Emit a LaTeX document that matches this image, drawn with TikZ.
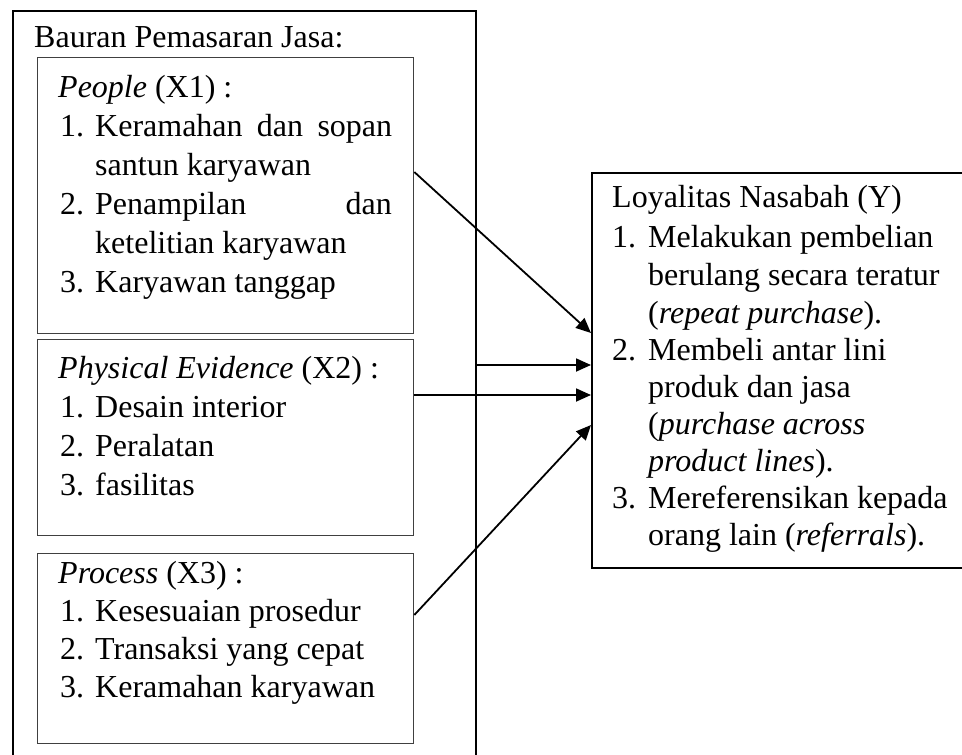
\documentclass[tikz,border=0pt]{standalone}
\usepackage{fontspec}
\setmainfont{Liberation Serif}
\usetikzlibrary{arrows.meta,calc}
\tikzset{
  outerbox/.style={draw=black, line width=1.8pt, anchor=north west, inner sep=0pt},
  innerbox/.style={draw=black!75, line width=1.3pt, anchor=north west, inner sep=0pt},
  txt/.style={anchor=base west, inner sep=0pt, font=\fontsize{32}{37}\selectfont},
  txtr/.style={anchor=base east, inner sep=0pt, font=\fontsize{32}{37}\selectfont},
  conn/.style={line width=1.8pt, -{Triangle[length=15pt,width=13pt]}}
}
\begin{document}
\begin{tikzpicture}[x=1pt,y=-1pt]
\useasboundingbox (0,0) rectangle (962,755);
% boxes
\node (outer) [outerbox, minimum width=463pt, minimum height=752pt] at (12,10) {};
\node (x1) [innerbox, minimum width=376pt, minimum height=276pt] at (37,57) {};
\node (x2) [innerbox, minimum width=376pt, minimum height=196pt] at (37,339) {};
\node (x3) [innerbox, minimum width=376pt, minimum height=190pt] at (37,553) {};
\node (y) [outerbox, minimum width=378pt, minimum height=395pt] at (591,172) {};
% left texts
\node (t0) [txt] at (34,47) {Bauran Pemasaran Jasa:};
\node (t1) [txt] at (58,97) {\textit{People} (X1) :};
\node (t11n) [txt] at (60,136) {1.};
\node (t11) [txt] at (95,136) {\makebox[297pt][s]{Keramahan dan sopan}};
\node (t12) [txt] at (95,175) {santun karyawan};
\node (t13n) [txt] at (60,214) {2.};
\node (t13) [txt] at (95,214) {Penampilan};
\node (t13b) [txtr] at (392,214) {dan};
\node (t14) [txt] at (95,253) {ketelitian karyawan};
\node (t15n) [txt] at (60,292) {3.};
\node (t15) [txt] at (95,292) {Karyawan tanggap};
\node (t2) [txt] at (58,378) {\textit{Physical Evidence} (X2) :};
\node (t21n) [txt] at (60,417) {1.};
\node (t21) [txt] at (95,417) {Desain interior};
\node (t22n) [txt] at (60,456) {2.};
\node (t22) [txt] at (95,456) {Peralatan};
\node (t23n) [txt] at (60,495) {3.};
\node (t23) [txt] at (95,495) {fasilitas};
\node (t3) [txt] at (58,583) {\textit{Process} (X3) :};
\node (t31n) [txt] at (60,621) {1.};
\node (t31) [txt] at (95,621) {Kesesuaian prosedur};
\node (t32n) [txt] at (60,659) {2.};
\node (t32) [txt] at (95,659) {Transaksi yang cepat};
\node (t33n) [txt] at (60,697) {3.};
\node (t33) [txt] at (95,697) {Keramahan karyawan};
% right texts
\node (r0) [txt] at (612,207) {Loyalitas Nasabah (Y)};
\node (r1n) [txt] at (612,247) {1.};
\node (r1) [txt] at (648,247) {Melakukan pembelian};
\node (r2) [txt] at (648,285) {berulang secara teratur};
\node (r3) [txt] at (648,323) {(\textit{repeat purchase}).};
\node (r4n) [txt] at (612,360) {2.};
\node (r4) [txt] at (648,360) {Membeli antar lini};
\node (r5) [txt] at (648,397) {produk dan jasa};
\node (r6) [txt] at (648,434) {(\textit{purchase across}};
\node (r7) [txt] at (648,471) {\textit{product lines}).};
\node (r8n) [txt] at (612,508) {3.};
\node (r8) [txt] at (648,508) {Mereferensikan kepada};
\node (r9) [txt] at (648,545) {orang lain (\textit{referrals}).};
% connectors
\coordinate (a1s) at ($(x1.north east)+(0,115)$);
\coordinate (a1e) at ($(y.north west)+(0,161)$);
\coordinate (a2s) at ($(outer.north east)+(0,355)$);
\coordinate (a2e) at ($(y.north west)+(0,193)$);
\coordinate (a3s) at ($(x2.north east)+(0,56)$);
\coordinate (a3e) at ($(y.north west)+(0,223)$);
\coordinate (a4s) at ($(x3.north east)+(0,62)$);
\coordinate (a4e) at ($(y.north west)+(0,253)$);
\draw[conn] (a1s) -- (a1e);
\draw[conn] (a2s) -- (a2e);
\draw[conn] (a3s) -- (a3e);
\draw[conn] (a4s) -- (a4e);
\end{tikzpicture}
\end{document}
